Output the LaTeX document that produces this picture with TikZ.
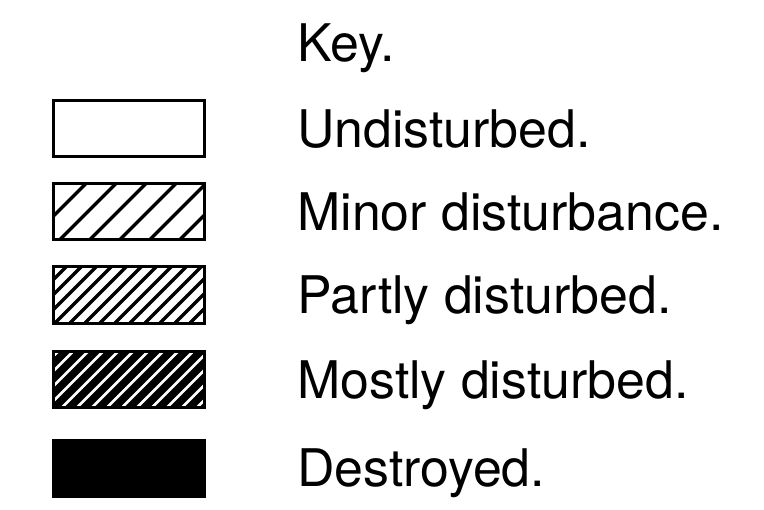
\documentclass[tikz,border=0pt]{standalone}
\usepackage{fontspec}
\setmainfont{TeX Gyre Heros}
\usetikzlibrary{positioning}

\begin{document}
\begin{tikzpicture}
    [
        node distance=1.68cm,
        font=\fontsize{29.5}{35}\selectfont,
        keybox/.style={draw, line width=0.06cm, minimum width=3.02cm, minimum height=1.12cm, inner sep=0pt},
        keytext/.style={inner sep=0pt, text height=21.2pt, text depth=0pt, anchor=west},
        minorhatch/.style={keybox, path picture={
            \foreach \s in {-0.47,0.13,...,3.1}
                \draw[line width=0.07cm] ([xshift=\s cm]path picture bounding box.south west) -- ++(1.3,1.3);
        }},
        partlyhatch/.style={keybox, path picture={
            \foreach \s in {-1.17,-0.87,...,3.1}
                \draw[line width=0.07cm] ([xshift=\s cm]path picture bounding box.south west) -- ++(1.3,1.3);
        }},
        mostlyhatch/.style={keybox, fill=black, path picture={
            \foreach \s in {-1.03,-0.73,...,3.1}
                \draw[white, line width=0.05cm] ([xshift=\s cm]path picture bounding box.south west) -- ++(1.3,1.3);
        }},
        destroyedbox/.style={keybox, fill=black}
    ]
    \useasboundingbox (0,0) rectangle (15.28,-10.2);

    % Boxes
    \node[keybox] (undisturbed) at (2.58,-2.57) {};
    \node[minorhatch, below of=undisturbed, node distance=1.66cm] (minor) {};
    \node[partlyhatch, below of=minor, node distance=1.67cm] (partly) {};
    \node[mostlyhatch, below of=partly, node distance=1.69cm] (mostly) {};
    \node[destroyedbox, below of=mostly, node distance=1.77cm] (destroyed) {};

    % Labels
    \node[keytext, right=1.82cm of undisturbed] (undisturbed_text) {Undisturbed.};
    \node[keytext, right=1.82cm of minor] (minor_text) {Minor disturbance.};
    \node[keytext, right=1.82cm of partly] (partly_text) {Partly disturbed.};
    \node[keytext, right=1.82cm of mostly] (mostly_text) {Mostly disturbed.};
    \node[keytext, right=1.82cm of destroyed] (destroyed_text) {Destroyed.};

    \node[keytext, above=0.96cm of undisturbed_text.north west, anchor=south west] (key) {Key.};
\end{tikzpicture}
\end{document}
